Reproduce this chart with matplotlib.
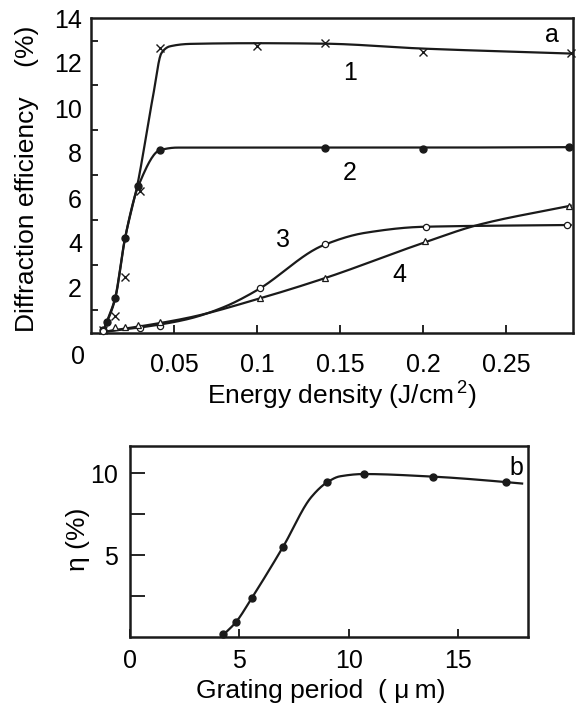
import numpy as np
import matplotlib
matplotlib.use("Agg")
import matplotlib.pyplot as plt

plt.rcParams['font.family'] = ['Liberation Sans', 'DejaVu Sans']
plt.rcParams['mathtext.fontset'] = 'custom'
plt.rcParams['mathtext.rm'] = 'Liberation Sans'
plt.rcParams['mathtext.it'] = 'Liberation Sans:italic'
plt.rcParams['mathtext.bf'] = 'Liberation Sans:bold'

# ---------------- panel a data ----------------
# curve 1 (crosses)
c1_x = [0.0075, 0.0145, 0.0205, 0.0295, 0.0416, 0.100, 0.141, 0.200, 0.289]
c1_y = [0.15, 0.75, 2.5, 6.3, 12.67, 12.76, 12.9, 12.5, 12.44]
c1_line_x = [0.0075, 0.0145, 0.0205, 0.0280, 0.0373, 0.0425, 0.0475, 0.060, 0.100, 0.140, 0.200, 0.289]
c1_line_y = [0.10, 1.5, 4.2, 6.6, 10.5, 12.45, 12.74, 12.85, 12.88, 12.86, 12.64, 12.42]
# curve 2 (filled dots)
c2_x = [0.0075, 0.0095, 0.0145, 0.0205, 0.0285, 0.0416, 0.141, 0.200, 0.288]
c2_y = [0.13, 0.5, 1.55, 4.22, 6.53, 8.13, 8.22, 8.2, 8.27]
c2_line_x = [0.0075, 0.0095, 0.0145, 0.0205, 0.0285, 0.0416, 0.052, 0.141, 0.200, 0.289]
c2_line_y = [0.10, 0.5, 1.55, 4.22, 6.53, 8.13, 8.24, 8.24, 8.24, 8.26]
# curve 3 (open circles)
c3_x = [0.0075, 0.0295, 0.0416, 0.102, 0.141, 0.2018, 0.287]
c3_y = [0.1, 0.22, 0.31, 2.0, 3.96, 4.72, 4.8]
c3_line_x = [0.0075, 0.030, 0.045, 0.060, 0.080, 0.100, 0.140, 0.165, 0.200, 0.289]
c3_line_y = [0.05, 0.25, 0.42, 0.65, 1.15, 1.9, 3.9, 4.45, 4.72, 4.8]
# curve 4 (open triangles)
c4_x = [0.0145, 0.0205, 0.0285, 0.0416, 0.1018, 0.141, 0.201, 0.288]
c4_y = [0.27, 0.27, 0.35, 0.5, 1.55, 2.44, 4.08, 5.64]
c4_line_x = [0.0075, 0.030, 0.060, 0.100, 0.141, 0.200, 0.233, 0.289]
c4_line_y = [0.05, 0.3, 0.7, 1.5, 2.44, 4.0, 4.8, 5.66]

a_xticks = [0.05, 0.10, 0.15, 0.20, 0.25]
a_xticklabels = ["0.05", "0.1", "0.15", "0.2", "0.25"]
a_yticks = [2, 4, 6, 8, 10, 12, 14]
a_yminor = [1, 3, 5, 7, 9, 11, 13]

# ---------------- panel b data ----------------
b_x = [4.24, 4.84, 5.58, 7.0, 9.03, 10.7, 13.87, 17.2]
b_y = [0.18, 0.9, 2.4, 5.5, 9.45, 9.94, 9.76, 9.45]
b_line_x = [4.24, 4.84, 5.58, 7.0, 8.3, 9.03, 9.6, 10.7, 13.87, 17.2, 17.93]
b_line_y = [0.10, 0.9, 2.4, 5.5, 8.55, 9.45, 9.8, 9.94, 9.78, 9.45, 9.36]
b_xticks = [0, 5, 10, 15]
b_yticks = [5, 10]
b_yminor = [2.5, 7.5]


def pchip(x, y, n=400):
    x = np.asarray(x, float)
    y = np.asarray(y, float)
    h = np.diff(x)
    delta = np.diff(y) / h
    d = np.zeros_like(y)
    for k in range(1, len(x) - 1):
        if delta[k - 1] * delta[k] <= 0:
            d[k] = 0.0
        else:
            w1 = 2 * h[k] + h[k - 1]
            w2 = h[k] + 2 * h[k - 1]
            d[k] = (w1 + w2) / (w1 / delta[k - 1] + w2 / delta[k])
    d[0] = delta[0]
    d[-1] = delta[-1]
    xs = np.linspace(x[0], x[-1], n)
    idx = np.clip(np.searchsorted(x, xs) - 1, 0, len(x) - 2)
    t = (xs - x[idx]) / h[idx]
    h00 = 2 * t**3 - 3 * t**2 + 1
    h10 = t**3 - 2 * t**2 + t
    h01 = -2 * t**3 + 3 * t**2
    h11 = t**3 - t**2
    ys = h00 * y[idx] + h10 * h[idx] * d[idx] + h01 * y[idx + 1] + h11 * h[idx] * d[idx + 1]
    return xs, ys


fig = plt.figure(figsize=(5.79, 7.09), dpi=100)
FS = 18
LFS = 19
LW = 1.6
INK = '#1a1a1a'

# ---------- panel a ----------
ax = fig.add_axes([91 / 579, 1 - 333 / 709, 482 / 579, 315 / 709])
for lx, ly in [(c1_line_x, c1_line_y), (c2_line_x, c2_line_y),
               (c3_line_x, c3_line_y), (c4_line_x, c4_line_y)]:
    xs, ys = pchip(lx, ly)
    ax.plot(xs, ys, color=INK, lw=LW, zorder=2, clip_on=False)
ax.plot(c1_x, c1_y, ls='none', marker='x', ms=6, mew=1.0, color=INK, zorder=3, clip_on=False)
ax.plot(c2_x, c2_y, ls='none', marker='o', ms=5, color=INK, zorder=3, clip_on=False)
ax.plot(c3_x, c3_y, ls='none', marker='o', ms=4.5, mfc='white', mec=INK, mew=0.9, zorder=3, clip_on=False)
ax.plot(c4_x, c4_y, ls='none', marker='^', ms=5, mfc='white', mec=INK, mew=0.9, zorder=3, clip_on=False)

ax.set_xlim(0, 0.2904)
ax.set_ylim(0, 14)
ax.set_xticks(a_xticks)
ax.set_xticklabels(a_xticklabels)
ax.set_yticks(a_yticks)
ax.set_yticks(a_yminor, minor=True)
ax.tick_params(axis='y', which='major', length=0, pad=6.5, labelsize=FS)
ax.tick_params(axis='y', which='minor', direction='in', length=5, width=1.2)
ax.tick_params(axis='x', which='major', direction='in', length=6, width=1.2, pad=14.4, labelsize=FS)
for s in ax.spines.values():
    s.set_linewidth(1.8)
    s.set_color(INK)
ax.text(-0.027, -0.076, "0", transform=ax.transAxes, ha='center', va='center', fontsize=FS)
ax.set_xlabel(r"Energy density (J/cm$^{\,2}$)", fontsize=LFS, va='baseline')
ax.xaxis.set_label_coords(0.519, -0.2286)
ax.set_ylabel("Diffraction efficiency    (%)", fontsize=LFS, va='center')
ax.yaxis.set_label_coords(-0.1328, 0.49)
ax.text(0.156, 11.55, "1", ha='center', va='center', fontsize=FS)
ax.text(0.156, 7.1, "2", ha='center', va='center', fontsize=FS)
ax.text(0.1157, 4.13, "3", ha='center', va='center', fontsize=FS)
ax.text(0.186, 2.58, "4", ha='center', va='center', fontsize=FS)
ax.text(0.278, 13.24, "a", ha='center', va='center', fontsize=FS)

# ---------- panel b ----------
bx = fig.add_axes([130 / 579, 1 - 637 / 709, 398 / 579, 191 / 709])
xs, ys = pchip(b_line_x, b_line_y)
bx.plot(xs, ys, color=INK, lw=LW, zorder=2)
bx.plot(b_x, b_y, ls='none', marker='o', ms=5, color=INK, zorder=3, clip_on=False)
bx.set_xlim(0, 18.2)
bx.set_ylim(0, 11.65)
bx.set_xticks(b_xticks)
bx.set_yticks(b_yticks)
bx.set_yticks(b_yminor, minor=True)
bx.tick_params(axis='y', which='both', direction='in', length=11, width=1.2, pad=8.6, labelsize=FS)
bx.tick_params(axis='x', which='major', direction='in', length=6, width=1.2, pad=8.6, labelsize=FS)
bx.tick_params(axis='x', which='minor', length=0)
for s in bx.spines.values():
    s.set_linewidth(1.8)
    s.set_color(INK)
bx.set_xlabel("Grating period  ( \u03bc\u2009m)", fontsize=LFS, va='baseline')
bx.xaxis.set_label_coords(0.48, -0.319)
bx.set_ylabel("\u03b7 (%)", fontsize=LFS, va='center')
bx.yaxis.set_label_coords(-0.1307, 0.513)
bx.text(17.65, 10.3, "b", ha='center', va='center', fontsize=FS)

fig.savefig("out.png", dpi=100)
